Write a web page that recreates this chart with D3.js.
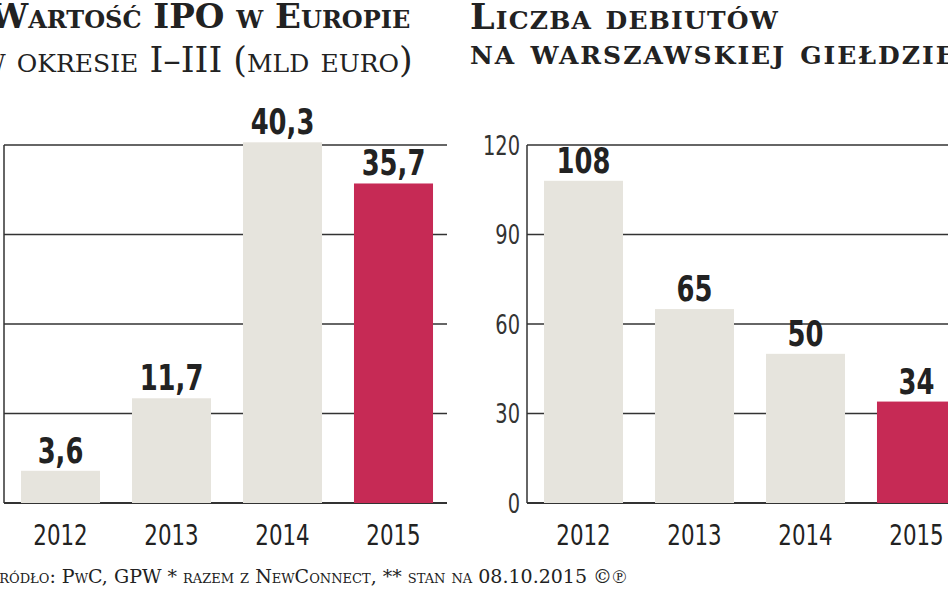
<!DOCTYPE html>
<html><head><meta charset="utf-8">
<script src="https://cdn.jsdelivr.net/npm/d3@7"></script>
<style>
body{margin:0;background:#fff;overflow:hidden}
.t{font-family:"DejaVu Serif",serif;font-variant:small-caps;fill:#222}
.n{font-family:"DejaVu Sans Condensed","DejaVu Sans",sans-serif;fill:#222}
</style></head><body>
<svg id="c" width="948" height="593"></svg>
<script>
const years = ["2012","2013","2014","2015"];
const ipoValues = [3.6, 11.7, 40.3, 35.7];
const ipoLabels = ["3,6","11,7","40,3","35,7"];
const ipoTicks = [0,10,20,30,40];
const debutValues = [108, 65, 50, 34];
const debutTicks = [0,30,60,90,120];

const svg = d3.select("#c");
const grey = "#e6e4dd", red = "#c62a55", line = "#333";
const y0 = 503, y1 = 145;

function panel(x1, axisX, values, labels, ticks, max, showTicks) {
  const g = svg.append("g");
  const y = d3.scaleLinear().domain([0, max]).range([y0, y1]);
  const x = d3.scaleBand().domain(years).range([axisX + 1, axisX + 1 + 444]).paddingInner(0.288).paddingOuter(0.144);
  ticks.forEach(t => {
    g.append("line").attr("x1", axisX).attr("x2", x1).attr("y1", y(t)).attr("y2", y(t))
      .attr("stroke", line).attr("stroke-width", t === 0 ? 2 : 1.4);
  });
  g.append("line").attr("x1", axisX).attr("x2", axisX).attr("y1", y(0)).attr("y2", y(max)).attr("stroke", line).attr("stroke-width", 1.5);
  if (showTicks) {
    const ax = g.append("g").attr("transform", `translate(${axisX - 7},0)`)
      .call(d3.axisLeft(y).tickValues(ticks).tickSize(0).tickPadding(0));
    ax.select(".domain").remove();
    ax.selectAll("text").style("font-size", "27px").style("font-family", "'DejaVu Sans Condensed',sans-serif")
      .attr("fill", "#333").attr("dy", "0.35em").attr("transform", "scale(0.8,1)");
  }
  g.selectAll("rect").data(values).join("rect")
    .attr("x", (d, i) => x(years[i])).attr("width", x.bandwidth())
    .attr("y", d => y(d)).attr("height", d => y(0) - y(d))
    .attr("fill", (d, i) => i === 3 ? red : grey);
  g.selectAll("text.v").data(values).join("text").attr("class", "n v")
    .attr("transform", (d, i) => `translate(${x(years[i]) + x.bandwidth() / 2},${y(d) - 8}) scale(0.82,1)`)
    .attr("text-anchor", "middle").style("font-size", "35px").style("font-weight", "bold")
    .text((d, i) => labels[i]);
  g.selectAll("text.yr").data(years).join("text").attr("class", "n yr")
    .attr("transform", d => `translate(${x(d) + x.bandwidth() / 2},545) scale(0.82,1)`)
    .attr("text-anchor", "middle").style("font-size", "29px").text(d => d);
}
panel(447, 4, ipoValues, ipoLabels, ipoTicks, 40, false);
panel(948, 527, debutValues, debutValues.map(String), debutTicks, 120, true);

svg.append("text").attr("class", "t").attr("x", -10).attr("y", 28).style("font-size", "34px").style("font-weight", "bold").text("Wartość IPO w Europie");
svg.append("text").attr("class", "t").attr("x", -20).attr("y", 72).style("font-size", "35px").text("w okresie I–III (mld euro)");
svg.append("text").attr("class", "t").attr("x", 470).attr("y", 29).style("font-size", "35px").style("font-weight", "bold").style("letter-spacing", "1.2px").text("Liczba debiutów");
svg.append("text").attr("class", "t").attr("x", 470).attr("y", 64).style("font-size", "35px").style("font-weight", "bold").style("letter-spacing", "2px").text("na warszawskiej giełdzie");
svg.append("text").attr("class", "t").attr("x", -14).attr("y", 583).style("font-size", "19px").text("Źródło: PwC, GPW * razem z NewConnect, ** stan na 08.10.2015 ©℗");
</script></body></html>
